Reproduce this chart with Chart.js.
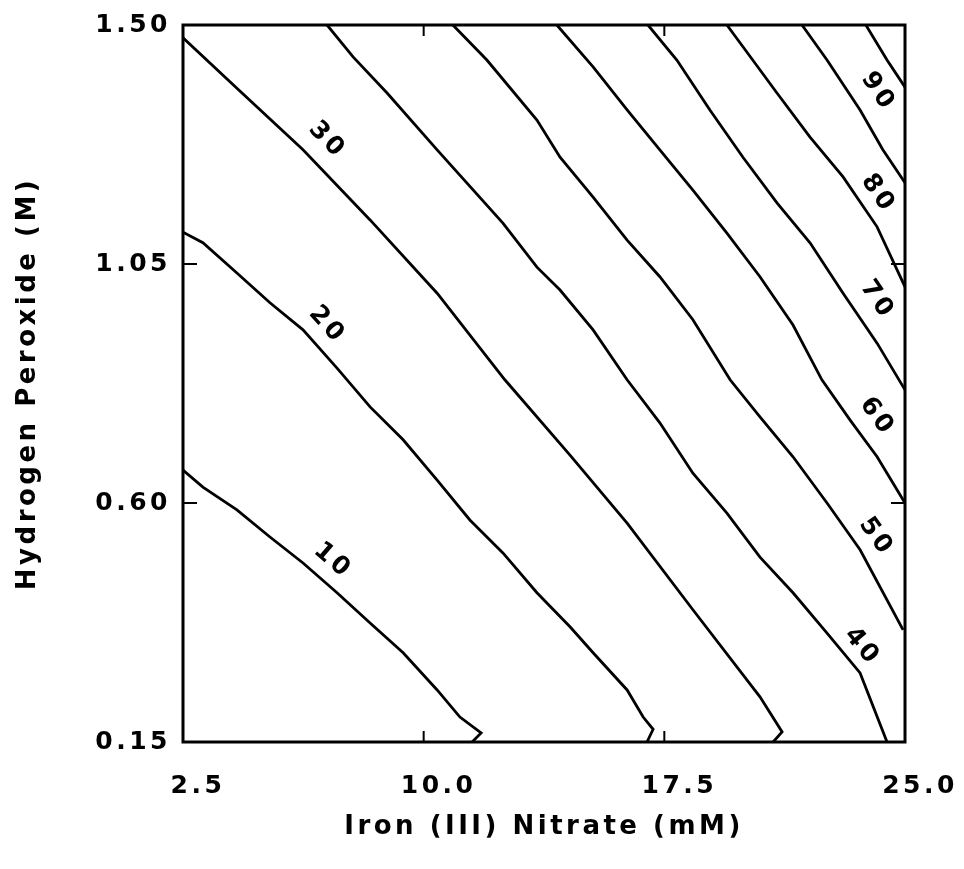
<!DOCTYPE html>
<html>
<head>
<meta charset="utf-8">
<title>Hydrogen Peroxide / Iron (III) Nitrate contours</title>
<script src="https://cdn.jsdelivr.net/npm/chart.js@4.4.1/dist/chart.umd.min.js"></script>
<style>
  html, body { margin: 0; padding: 0; background: #fff; }
  #wrap { width: 964px; height: 869px; }
</style>
</head>
<body>
<div id="wrap"><canvas id="contourChart"></canvas></div>
<script>
// AXIS TICKS
const xTicks = [2.5, 10.0, 17.5, 25.0];
const yTicks = [0.15, 0.60, 1.05, 1.50];

// CONTOUR LEVELS (lowest at bottom left)
const levels = [10, 20, 30, 40, 50, 60, 70, 80, 90, 100];

// contour lines: x = iron nitrate (mM), y = peroxide (M)
const c10x = [2.50, 3.12, 4.18, 5.21, 6.24, 7.30, 8.33, 9.36, 10.42, 11.13, 11.79, 11.51];
const c10y = [0.662, 0.630, 0.587, 0.536, 0.487, 0.431, 0.374, 0.318, 0.248, 0.197, 0.167, 0.150];

const c20x = [2.50, 3.12, 4.18, 5.21, 6.24, 7.30, 8.33, 9.36, 10.42, 11.44, 12.47, 13.53, 14.56, 15.28, 16.34, 16.84, 17.15, 16.96];
const c20y = [1.110, 1.090, 1.033, 0.977, 0.926, 0.854, 0.781, 0.719, 0.643, 0.568, 0.506, 0.431, 0.367, 0.318, 0.248, 0.197, 0.174, 0.150];

const c30x = [2.50, 4.18, 6.24, 8.33, 10.42, 12.53, 14.56, 16.34, 18.39, 20.48, 21.17, 20.89];
const c30y = [1.476, 1.381, 1.265, 1.133, 0.995, 0.832, 0.690, 0.562, 0.399, 0.235, 0.169, 0.150];

const c40x = [6.99, 7.80, 8.86, 10.42, 12.47, 13.53, 14.25, 15.28, 16.34, 17.36, 18.39, 19.45, 20.48, 21.51, 22.57, 23.60, 24.44];
const c40y = [1.500, 1.440, 1.372, 1.265, 1.127, 1.044, 1.001, 0.926, 0.832, 0.751, 0.656, 0.581, 0.498, 0.431, 0.355, 0.280, 0.150];

const c50x = [10.91, 11.97, 13.53, 14.25, 15.28, 16.34, 17.36, 18.39, 19.55, 20.48, 21.51, 22.57, 23.60, 24.94];
const c50y = [1.500, 1.434, 1.321, 1.251, 1.176, 1.095, 1.026, 0.945, 0.832, 0.762, 0.687, 0.600, 0.512, 0.361];

const c60x = [14.15, 15.28, 16.34, 17.36, 18.39, 19.45, 20.48, 21.51, 22.41, 23.29, 24.13, 25.00];
const c60y = [1.500, 1.421, 1.340, 1.265, 1.189, 1.108, 1.026, 0.935, 0.832, 0.756, 0.687, 0.600];

const c70x = [16.99, 17.89, 18.92, 19.95, 21.01, 22.04, 23.07, 24.13, 25.00];
const c70y = [1.500, 1.434, 1.340, 1.251, 1.165, 1.090, 0.995, 0.901, 0.813];

const c80x = [19.45, 19.95, 21.01, 22.04, 23.07, 24.13, 25.00];
const c80y = [1.500, 1.459, 1.372, 1.289, 1.214, 1.120, 1.007];

const c90x = [21.79, 22.57, 23.60, 24.31, 25.00];
const c90y = [1.500, 1.434, 1.340, 1.265, 1.203];

const c100x = [23.78, 24.44, 25.00];
const c100y = [1.500, 1.434, 1.383];

// where the level numbers are written (data units)
const labelLevels = [10, 20, 30, 40, 50, 60, 70, 80, 90];
const labelX = [7.17, 6.99, 6.99, 23.66, 24.10, 24.13, 24.13, 24.16, 24.16];
const labelY = [0.491, 0.935, 1.283, 0.329, 0.536, 0.762, 0.982, 1.182, 1.374];

const contours = [
  [c10x, c10y], [c20x, c20y], [c30x, c30y], [c40x, c40y], [c50x, c50y],
  [c60x, c60y], [c70x, c70y], [c80x, c80y], [c90x, c90y], [c100x, c100y]
];

const FONT = '"DejaVu Sans", "Liberation Sans", sans-serif';
const SPACING = '3.5px';

// angle of the contour segment nearest to a point (pixels)
function slopeNear(chart, idx, px, py) {
  const pts = chart.getDatasetMeta(idx).data;
  let best = 0, bestD = Infinity;
  for (let i = 0; i < pts.length - 1; i++) {
    const mx = (pts[i].x + pts[i + 1].x) / 2;
    const my = (pts[i].y + pts[i + 1].y) / 2;
    const d = (mx - px) ** 2 + (my - py) ** 2;
    if (d < bestD) {
      bestD = d;
      best = Math.atan2(pts[i + 1].y - pts[i].y, pts[i + 1].x - pts[i].x);
    }
  }
  return best;
}

// box, inner tick marks and level numbers
const framePlugin = {
  id: 'frame',
  beforeUpdate(chart) { chart.ctx.letterSpacing = SPACING; },
  beforeDraw(chart) { chart.ctx.letterSpacing = SPACING; },
  afterDatasetsDraw(chart) {
    const { ctx, chartArea: a, scales: { x, y } } = chart;
    ctx.save();
    ctx.strokeStyle = '#000';
    ctx.lineWidth = 3;
    ctx.strokeRect(a.left, a.top, a.right - a.left, a.bottom - a.top);

    ctx.lineWidth = 2;
    ctx.beginPath();
    xTicks.slice(1, -1).forEach(v => {
      const px = x.getPixelForValue(v);
      ctx.moveTo(px, a.bottom); ctx.lineTo(px, a.bottom - 11);
      ctx.moveTo(px, a.top); ctx.lineTo(px, a.top + 11);
    });
    yTicks.slice(1, -1).forEach(v => {
      const py = y.getPixelForValue(v);
      ctx.moveTo(a.left, py); ctx.lineTo(a.left + 14, py);
      ctx.moveTo(a.right, py); ctx.lineTo(a.right - 14, py);
    });
    ctx.stroke();

    ctx.fillStyle = '#000';
    ctx.font = 'bold 25px ' + FONT;
    ctx.textAlign = 'center';
    ctx.textBaseline = 'middle';
    labelLevels.forEach((lv, i) => {
      const px = x.getPixelForValue(labelX[i]);
      const py = y.getPixelForValue(labelY[i]);
      const ang = slopeNear(chart, levels.indexOf(lv), px, py);
      ctx.save();
      ctx.translate(px, py);
      ctx.rotate(ang);
      ctx.fillText(String(lv), 0, 0);
      ctx.restore();
    });
    ctx.restore();
  }
};

const tickFont = { family: FONT, size: 25, weight: 'bold' };
const titleFont = { family: FONT, size: 26, weight: 'bold' };

const chart = new Chart(document.getElementById('contourChart'), {
  type: 'scatter',
  data: {
    datasets: contours.map(([xs, ys], i) => ({
      label: String(levels[i]),
      data: xs.map((v, j) => ({ x: v, y: ys[j] })),
      showLine: true,
      borderColor: '#000',
      borderWidth: 2.8,
      pointRadius: 0,
      tension: 0,
      fill: false
    }))
  },
  options: {
    responsive: true,
    maintainAspectRatio: false,
    animation: false,
    layout: { padding: { top: 25, right: 59, bottom: 0, left: 0 } },
    plugins: {
      legend: { display: false },
      tooltip: { enabled: false }
    },
    scales: {
      x: {
        type: 'linear',
        min: 2.5,
        max: 25,
        afterBuildTicks: s => { s.ticks = xTicks.map(v => ({ value: v })); },
        afterFit: s => { s.height = 127; s.paddingLeft = 0; s.paddingRight = 0; },
        grid: { display: false, drawTicks: false },
        border: { display: false },
        ticks: {
          color: '#000',
          font: tickFont,
          padding: 29,
          labelOffset: 15,
          maxRotation: 0,
          autoSkip: false,
          callback: v => Number(v).toFixed(1)
        },
        title: {
          display: true,
          text: 'Iron (III) Nitrate (mM)',
          color: '#000',
          font: titleFont,
          padding: { top: 0, bottom: 26 }
        }
      },
      y: {
        type: 'linear',
        min: 0.15,
        max: 1.5,
        afterBuildTicks: s => { s.ticks = yTicks.map(v => ({ value: v })); },
        afterFit: s => { s.width = 183; s.paddingTop = 0; s.paddingBottom = 0; },
        grid: { display: false, drawTicks: false },
        border: { display: false },
        ticks: {
          color: '#000',
          font: tickFont,
          padding: 12,
          autoSkip: false,
          callback: v => Number(v).toFixed(2)
        },
        title: {
          display: true,
          text: 'Hydrogen Peroxide (M)',
          color: '#000',
          font: titleFont,
          padding: { top: 13, bottom: 0 }
        }
      }
    }
  },
  plugins: [framePlugin]
});
</script>
</body>
</html>
